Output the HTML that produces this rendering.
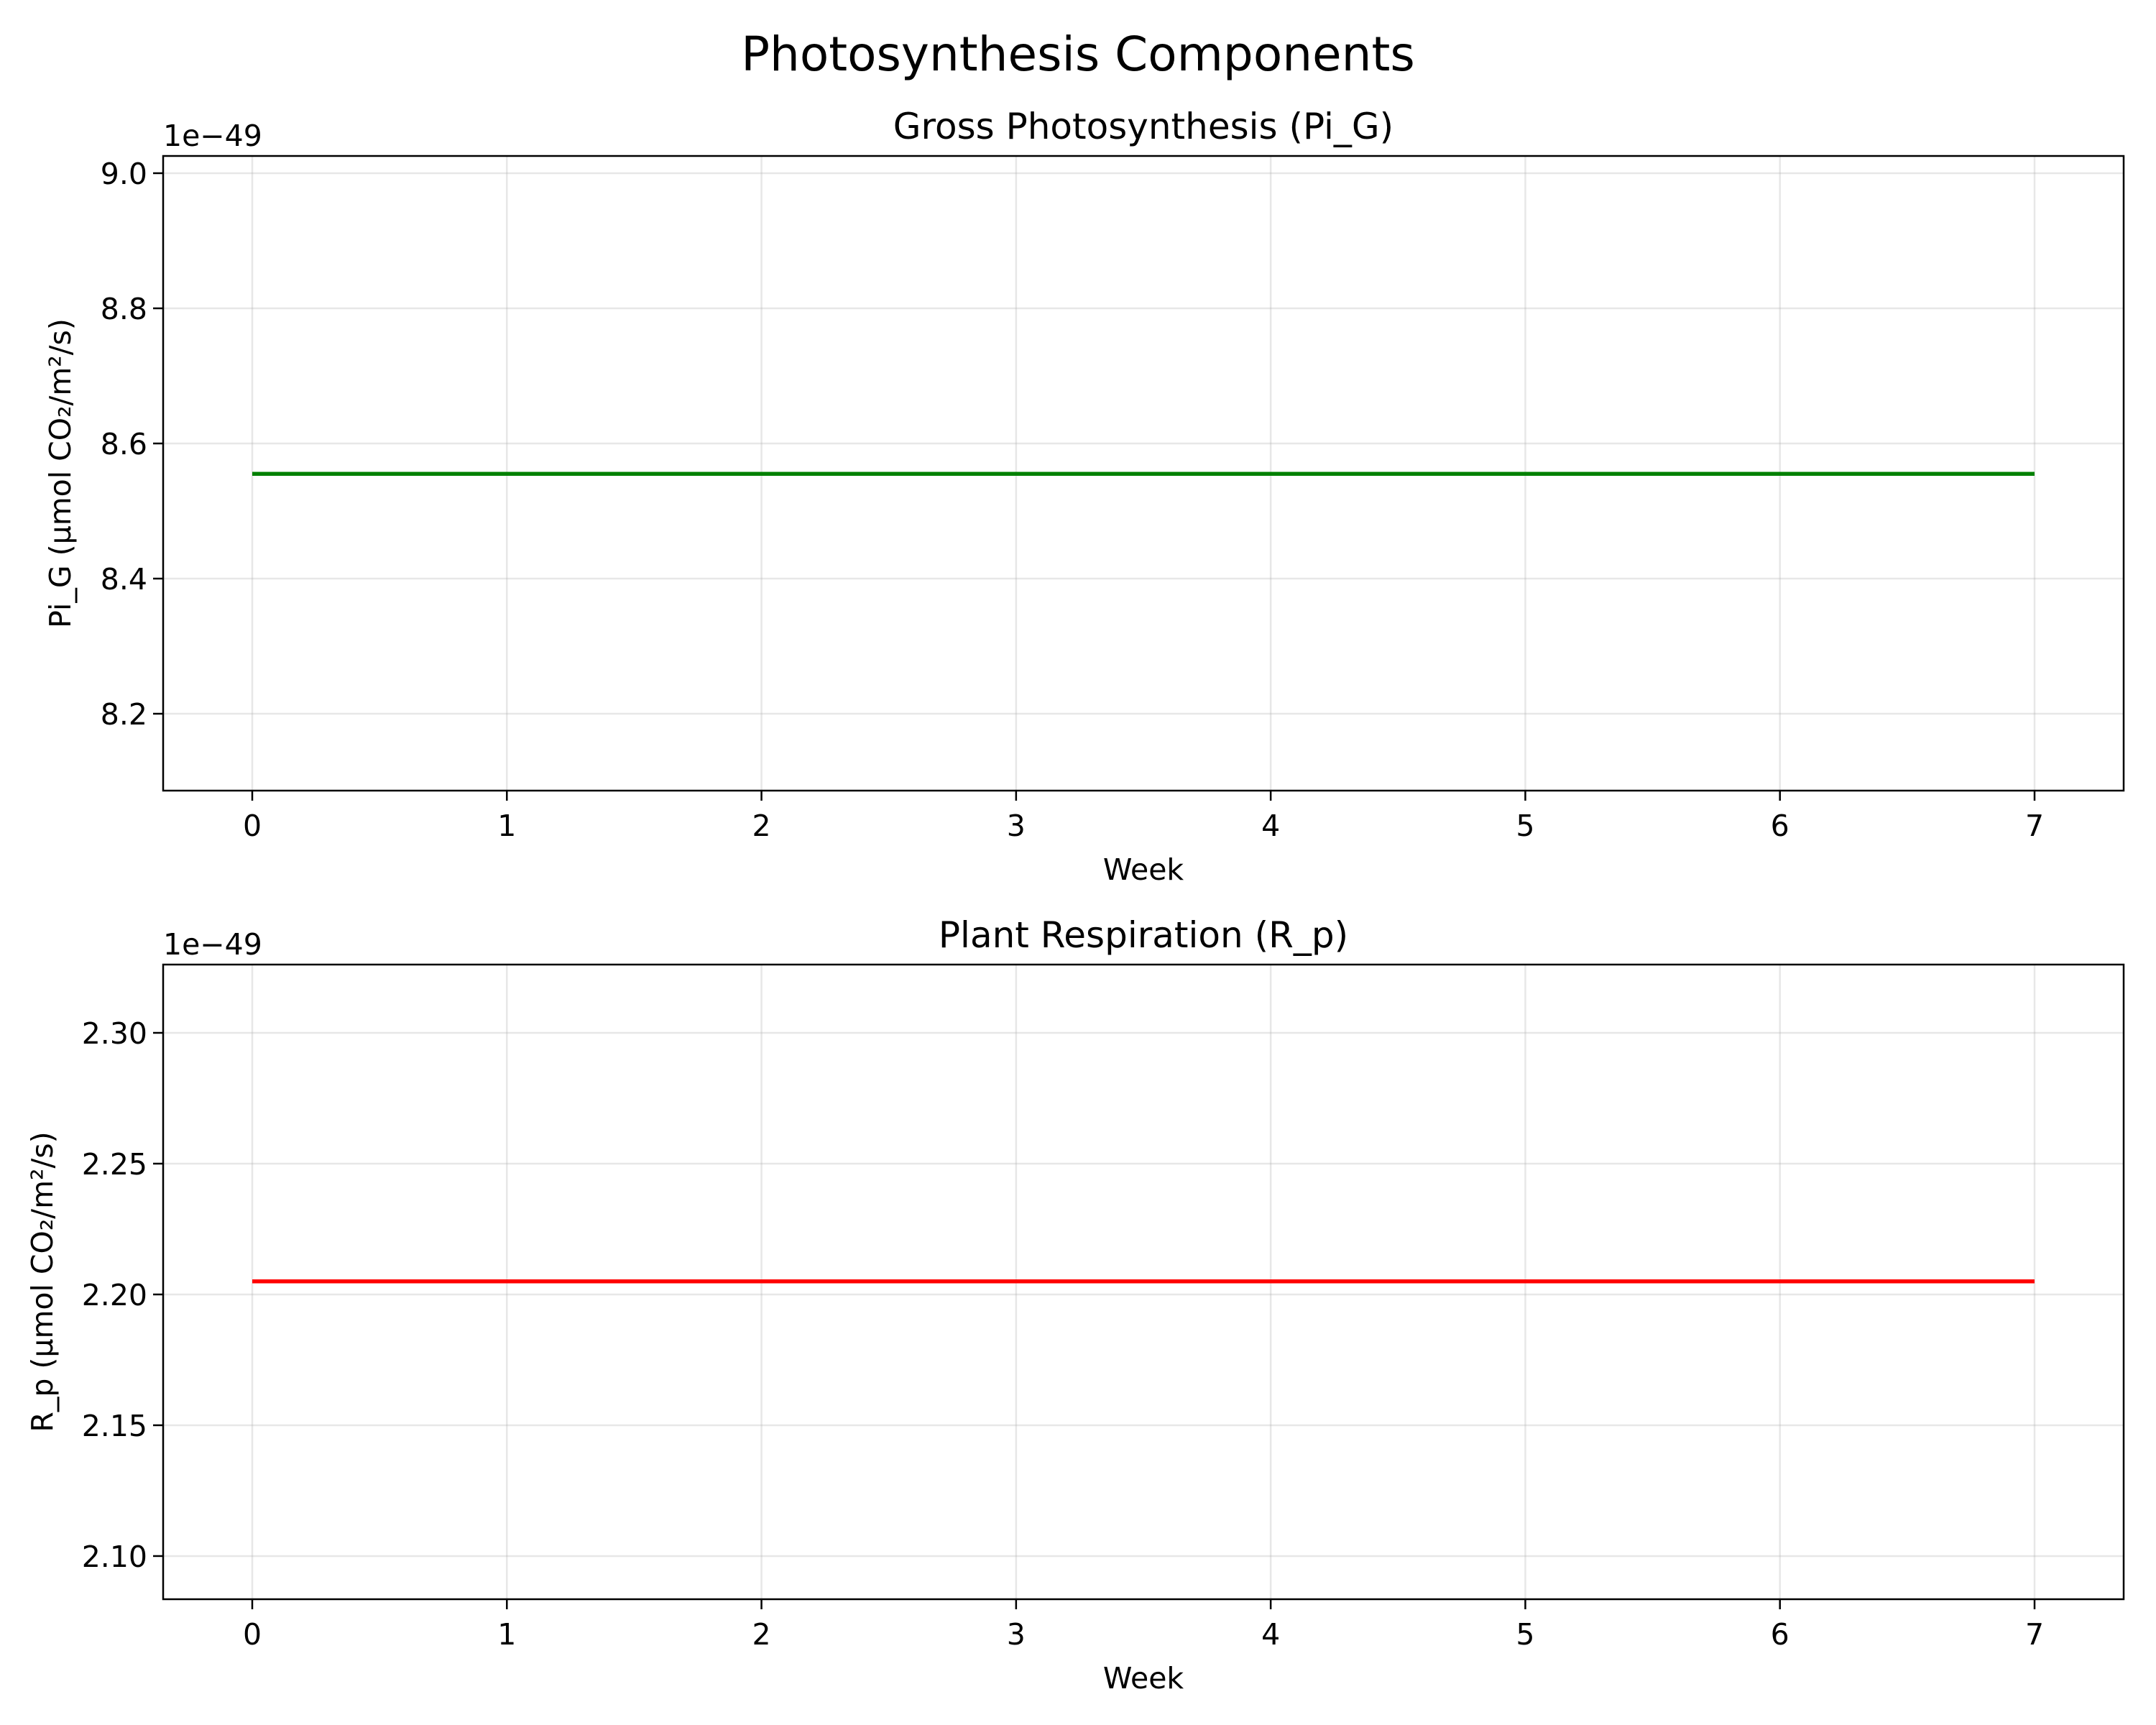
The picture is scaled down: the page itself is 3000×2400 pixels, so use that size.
<!DOCTYPE html>
<html><head><meta charset="utf-8"><style>
html,body{margin:0;padding:0;background:#fff;}
svg{display:block;font-family:"DejaVu Sans","Liberation Sans",sans-serif;}
</style></head><body>
<svg id="chart" width="3000" height="2400" viewBox="0 0 3000 2400" xmlns="http://www.w3.org/2000/svg">
<rect width="3000" height="2400" fill="#fff"/>
<text x="1500" y="98" font-size="66" text-anchor="middle">Photosynthesis Components</text>
</svg>
<script>
const weeks = [0,1,2,3,4,5,6,7];
const piG = [8.555,8.555,8.555,8.555,8.555,8.555,8.555,8.555];
const rP = [2.205,2.205,2.205,2.205,2.205,2.205,2.205,2.205];
const xTicks = [0,1,2,3,4,5,6,7];
const piGTicks = [8.2,8.4,8.6,8.8,9.0];
const piGTickLabels = ["8.2","8.4","8.6","8.8","9.0"];
const rPTicks = [2.10,2.15,2.20,2.25,2.30];
const rPTickLabels = ["2.10","2.15","2.20","2.25","2.30"];

const NS = "http://www.w3.org/2000/svg";
const svg = document.getElementById('chart');
function mk(tag, attrs, parent){const e=document.createElementNS(NS,tag);for(const k in attrs)e.setAttribute(k,attrs[k]);(parent||svg).appendChild(e);return e;}

function panel(cfg){
  const L=227,R=2955,T=cfg.top,B=cfg.bottom;
  const xs=v=>L+(v-(-0.35))/(7.7)*(R-L);
  const ys=v=>B-(v-cfg.ymin)/(cfg.ymax-cfg.ymin)*(B-T);
  const g=mk('g',{});
  
  
  xTicks.forEach(t=>{
    const gl=mk('line',{x1:xs(t),x2:xs(t),y1:T,y2:B,stroke:'#b0b0b0','stroke-opacity':0.3,'stroke-width':2.5},g);
    
    
    const tk=mk('line',{x1:xs(t),x2:xs(t),y1:B,y2:B+14,stroke:'#000','stroke-width':2.5},g);
    
    
    const tl=mk('text',{x:xs(t),y:B+63,'font-size':41,'text-anchor':'middle'},g);
    tl.textContent=String(t);
    
    
  });
  cfg.ticks.forEach((t,i)=>{
    const gl=mk('line',{x1:L,x2:R,y1:ys(t),y2:ys(t),stroke:'#b0b0b0','stroke-opacity':0.3,'stroke-width':2.5},g);
    
    
    const tk=mk('line',{x1:L-14,x2:L,y1:ys(t),y2:ys(t),stroke:'#000','stroke-width':2.5},g);
    
    
    const tl=mk('text',{x:L-22,y:ys(t)+15,'font-size':41,'text-anchor':'end'},g);
    tl.textContent=cfg.tickLabels[i];
    
    
  });
  const pts=weeks.map((w,i)=>xs(w)+','+ys(cfg.values[i])).join(' ');
  const ln=mk('polyline',{points:pts,fill:'none',stroke:cfg.color,'stroke-width':5.5},g);
  
  
  const fr=mk('rect',{x:L,y:T,width:R-L,height:B-T,fill:'none',stroke:'#000','stroke-width':2.5},g);
  
  
  const off=mk('text',{x:L,y:T-14,'font-size':41},g);
  off.textContent='1e\u221249';
  
  
  const ti=mk('text',{x:(L+R)/2,y:T-24,'font-size':50,'text-anchor':'middle'},g);
  ti.textContent=cfg.title;
  
  
  const xl=mk('text',{x:(L+R)/2,y:B+124,'font-size':41,'text-anchor':'middle'},g);
  xl.textContent='Week';
  
  
  const cy=(T+B)/2;
  const yl=mk('text',{x:cfg.ylx,y:cy,'font-size':41,'text-anchor':'middle',transform:`rotate(-90 ${cfg.ylx} ${cy})`},g);
  yl.textContent=cfg.ylabel;
  
  
}
panel({name:'gross-photosynthesis-panel',top:217,bottom:1100,ymin:8.0862,ymax:9.0255,ticks:piGTicks,tickLabels:piGTickLabels,values:piG,color:'#008000',lineName:'pi-g-line',title:'Gross Photosynthesis (Pi_G)',ylabel:'Pi_G (\u00b5mol CO\u2082/m\u00b2/s)',ylx:98});
panel({name:'plant-respiration-panel',top:1342,bottom:2225,ymin:2.0835,ymax:2.3261,ticks:rPTicks,tickLabels:rPTickLabels,values:rP,color:'#ff0000',lineName:'r-p-line',title:'Plant Respiration (R_p)',ylabel:'R_p (\u00b5mol CO\u2082/m\u00b2/s)',ylx:73});
</script>
</body></html>
